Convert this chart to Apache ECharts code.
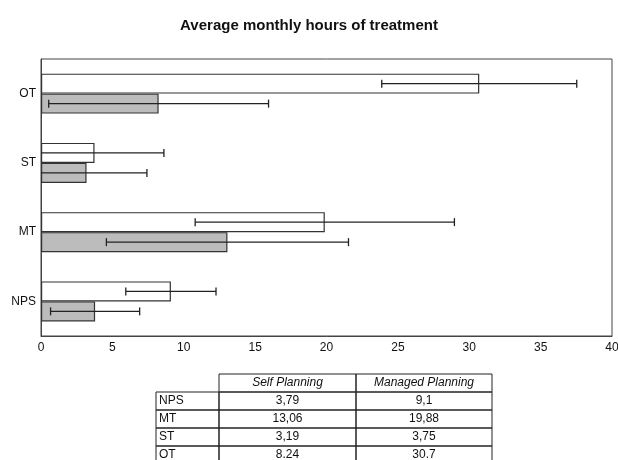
<!DOCTYPE html>
<html><head><meta charset="utf-8">
<script src="https://cdn.jsdelivr.net/npm/echarts@6/dist/echarts.min.js"></script>
<style>html,body{margin:0;padding:0;background:#fff;overflow:hidden}#c{width:618px;height:460px}</style>
</head><body><div id="c"></div>
<script>
const categories = ['NPS', 'MT', 'ST', 'OT'];
const selfValues = [3.79, 13.06, 3.19, 8.24];
const managedValues = [9.1, 19.88, 3.75, 30.7];
const selfSD = [3.12, 8.48, 4.23, 7.7];
const managedSD = [3.16, 9.08, 4.86, 6.83];
const xTicks = [0, 5, 10, 15, 20, 25, 30, 35, 40];
const tableHeaders = ['Self Planning', 'Managed Planning'];
const tableSelfText = ['3,79', '13,06', '3,19', '8.24'];
const tableManagedText = ['9,1', '19,88', '3,75', '30.7'];

const BAR_W = 20;
const FONT = 'Liberation Sans, Arial, sans-serif';

function errData(vals, sds) {
  return vals.map((v, i) => [i, v - sds[i], v + sds[i]]);
}
function errRender(offset) {
  return function (params, api) {
    const i = api.value(0);
    const lo = api.coord([api.value(1), i]);
    const hi = api.coord([api.value(2), i]);
    const y = lo[1] + offset;
    const cap = 4;
    const style = { stroke: '#222', lineWidth: 1.3 };
    return {
      type: 'group',
      children: [
        { type: 'line', shape: { x1: lo[0], y1: y, x2: hi[0], y2: y }, style },
        { type: 'line', shape: { x1: lo[0], y1: y - cap, x2: lo[0], y2: y + cap }, style },
        { type: 'line', shape: { x1: hi[0], y1: y - cap, x2: hi[0], y2: y + cap }, style }
      ]
    };
  };
}

// table graphics
const tbl = [];
const colX = [156, 219, 356, 492];
const rowY = [374, 392, 410, 428, 446, 464];
const lineStyle = { stroke: '#222', lineWidth: 1 };
for (let c = 1; c <= 2; c++) {
  tbl.push({ type: 'rect', shape: { x: colX[c], y: rowY[0], width: colX[c + 1] - colX[c], height: rowY[1] - rowY[0] }, style: { fill: 'none', ...lineStyle } });
  tbl.push({ type: 'text', x: (colX[c] + colX[c + 1]) / 2, y: (rowY[0] + rowY[1]) / 2, style: { text: tableHeaders[c - 1], font: 'italic 12px ' + FONT, fill: '#111', align: 'center', verticalAlign: 'middle' } });
}
categories.forEach((cat, r) => {
  const y0 = rowY[r + 1], y1 = rowY[r + 2];
  for (let c = 0; c <= 2; c++) {
    tbl.push({ type: 'rect', shape: { x: colX[c], y: y0, width: colX[c + 1] - colX[c], height: y1 - y0 }, style: { fill: 'none', ...lineStyle } });
  }
  tbl.push({ type: 'text', x: colX[0] + 3, y: (y0 + y1) / 2, style: { text: cat, font: '12px ' + FONT, fill: '#111', align: 'left', verticalAlign: 'middle' } });
  tbl.push({ type: 'text', x: (colX[1] + colX[2]) / 2, y: (y0 + y1) / 2, style: { text: tableSelfText[r], font: '12px ' + FONT, fill: '#111', align: 'center', verticalAlign: 'middle' } });
  tbl.push({ type: 'text', x: (colX[2] + colX[3]) / 2, y: (y0 + y1) / 2, style: { text: tableManagedText[r], font: '12px ' + FONT, fill: '#111', align: 'center', verticalAlign: 'middle' } });
});

const chart = echarts.init(document.getElementById('c'), null, { renderer: 'canvas' });
chart.setOption({
  animation: false,
  backgroundColor: '#fff',
  title: {
    text: 'Average monthly hours of treatment',
    left: 'center', top: 13,
    textStyle: { fontFamily: FONT, fontSize: 15, fontWeight: 'bold', color: '#111' }
  },
  grid: { left: 41, right: 6, top: 59, bottom: 124, outerBoundsMode: 'none', containLabel: false,
    show: true, borderColor: '#444', borderWidth: 1, backgroundColor: 'transparent' },
  xAxis: {
    type: 'value', min: xTicks[0], max: xTicks[xTicks.length - 1], interval: 5,
    axisLine: { show: true, lineStyle: { color: '#444' } },
    axisTick: { show: false },
    splitLine: { show: false },
    axisLabel: { color: '#111', fontFamily: FONT, fontSize: 12, margin: 6 }
  },
  yAxis: {
    type: 'category', data: categories,
    axisLine: { show: true, lineStyle: { color: '#444' } },
    axisTick: { show: false },
    axisLabel: { color: '#111', fontFamily: FONT, fontSize: 12, margin: 5 }
  },
  graphic: tbl,
  series: [
    { name: 'Managed Planning', type: 'bar', data: managedValues, barWidth: BAR_W, barGap: '0%',
      itemStyle: { color: '#fff', borderColor: '#333', borderWidth: 1.2 } },
    { name: 'Self Planning', type: 'bar', data: selfValues, barWidth: BAR_W, barGap: '0%',
      itemStyle: { color: '#bcbcbc', borderColor: '#333', borderWidth: 1.2 } },
    { type: 'custom', data: errData(managedValues, managedSD), renderItem: errRender(-BAR_W / 2), clip: true, z: 5,
      encode: { x: [1, 2], y: 0 } },
    { type: 'custom', data: errData(selfValues, selfSD), renderItem: errRender(BAR_W / 2), clip: true, z: 5,
      encode: { x: [1, 2], y: 0 } }
  ]
});
</script></body></html>
